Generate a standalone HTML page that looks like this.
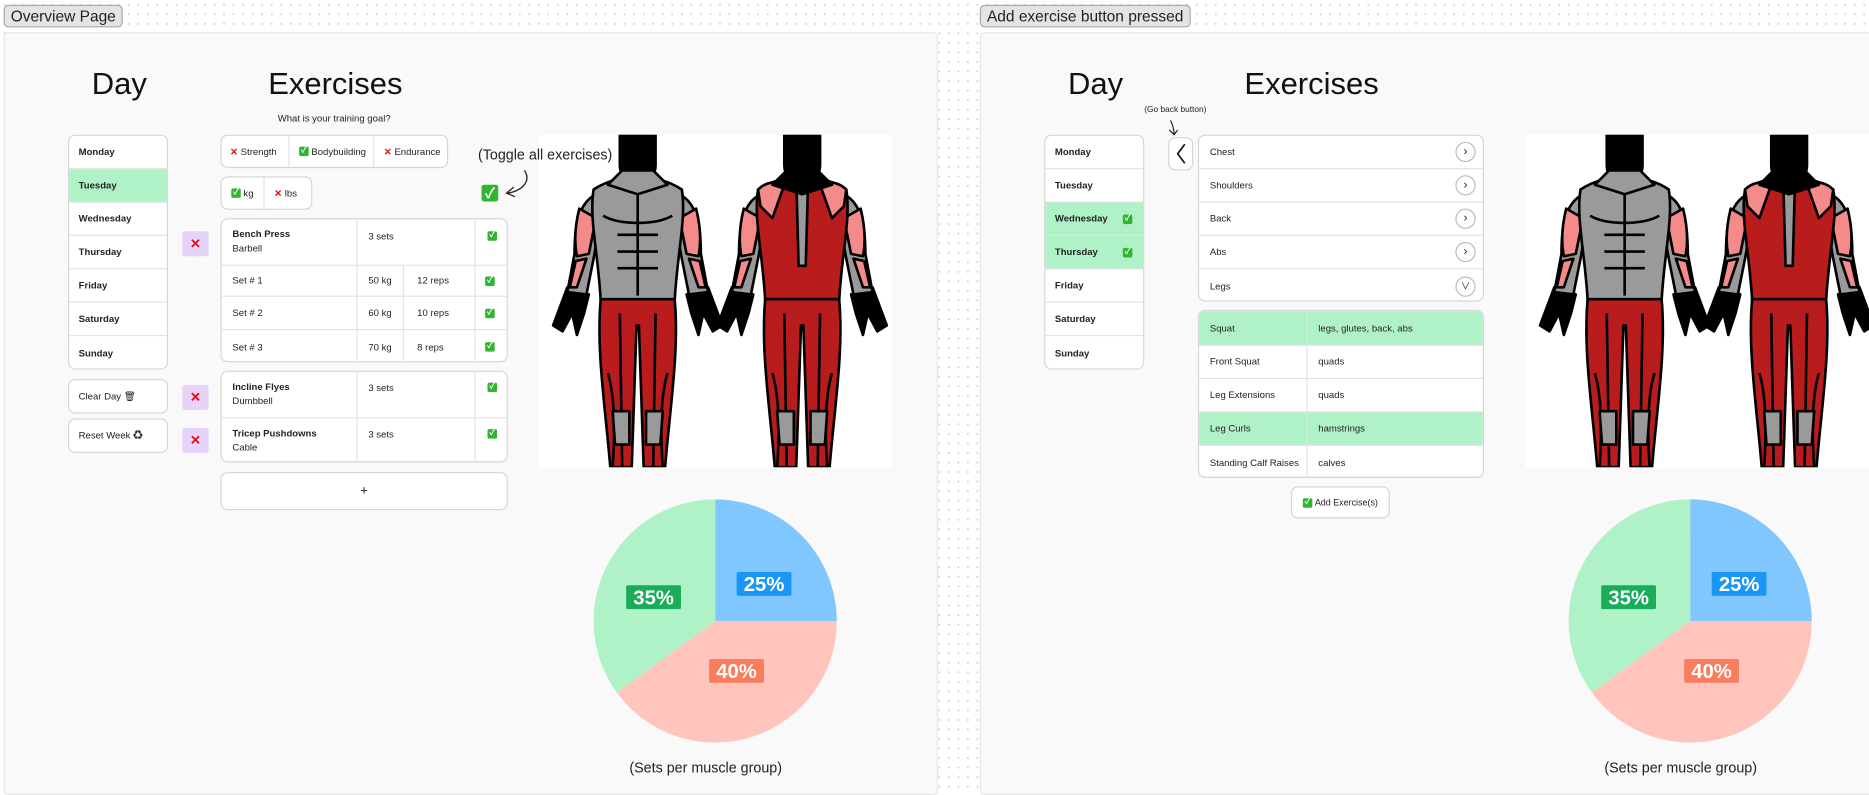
<!DOCTYPE html>
<html><head><meta charset="utf-8">
<style>
html,body{margin:0;padding:0;width:1869px;height:790px;overflow:hidden;background:#fff}
#stage{position:absolute;left:0;top:0;width:1568px;height:663px;transform:scale(1.19196);transform-origin:0 0;
 background-color:#fff;background-image:radial-gradient(#cfcfcf 0.7px,transparent 0.9px);background-size:8px 8px;
 font-family:"Liberation Sans","Noto Sans CJK JP",sans-serif;color:#222}
.abs{position:absolute;box-sizing:border-box}
.tag{background:#e4e4e4;border:1px solid #a8a8a8;border-radius:4px;font-size:13px;padding:1px 5px;line-height:15px}
.panel{background:#f9f9f9;border:1px solid #e6e6e6;border-radius:4px}
.h1{font-size:26px;color:#111}
.card{background:#fff;border:1px solid #d6d6d6;border-radius:6px;overflow:hidden}
.row{position:absolute;left:0;right:0;border-bottom:1px solid #e2e2e2;font-size:8px;display:flex;align-items:center;box-sizing:border-box}
.row:last-child{border-bottom:none}
.b{font-weight:bold}
.cell{position:absolute;top:0;bottom:0;display:flex;align-items:center;font-size:8px;box-sizing:border-box}
.vl{border-left:1px solid #e2e2e2}
.chk{display:inline-block;width:8px;height:8px;background:#2fb52f;border-radius:1.5px;color:#fff;font-size:7px;line-height:8px;text-align:center;font-weight:bold}
.x{color:#e01010;font-weight:bold}
.xbox{background:#e7d2fa;border-radius:2px;color:#e01010;font-weight:bold;font-size:11px;display:flex;align-items:center;justify-content:center}
.green{background:#b0f2c8}
.chev{position:absolute;right:6px;width:15px;height:15px;border:1px solid #bbb;border-radius:50%;background:#fff;font-size:10px;display:flex;align-items:center;justify-content:center}
</style></head><body>
<div id="stage">

<div class="abs tag" style="left:3px;top:4px">Overview Page</div>
<div class="abs tag" style="left:822px;top:4px">Add exercise button pressed</div>

<!-- LEFT PANEL -->
<div class="abs panel" style="left:3px;top:27px;width:784px;height:640px"></div>
<div class="abs h1" style="left:77px;top:55px">Day</div>
<div class="abs h1" style="left:225px;top:55px">Exercises</div>
<div class="abs" style="left:233px;top:95px;font-size:8px">What is your training goal?</div>

<div class="abs card" style="left:57px;top:113px;width:84px;height:197px">
 <div class="row b" style="top:0;height:28px;padding-left:8px">Monday</div>
 <div class="row b green" style="top:28px;height:28px;padding-left:8px">Tuesday</div>
 <div class="row b" style="top:56px;height:28px;padding-left:8px">Wednesday</div>
 <div class="row b" style="top:84px;height:28px;padding-left:8px">Thursday</div>
 <div class="row b" style="top:112px;height:28px;padding-left:8px">Friday</div>
 <div class="row b" style="top:140px;height:28px;padding-left:8px">Saturday</div>
 <div class="row b" style="top:168px;height:29px;padding-left:8px">Sunday</div>
</div>
<div class="abs card" style="left:57px;top:318px;width:84px;height:29px;font-size:8px;display:flex;align-items:center;padding-left:8px">Clear Day 🗑</div>
<div class="abs card" style="left:57px;top:351px;width:84px;height:29px;font-size:8px;display:flex;align-items:center;padding-left:8px">Reset Week ♻</div>
<div class="abs xbox" style="left:153px;top:194px;width:22px;height:21px">✕</div>
<div class="abs xbox" style="left:153px;top:323px;width:22px;height:21px">✕</div>
<div class="abs xbox" style="left:153px;top:359px;width:22px;height:21px">✕</div>

<div class="abs card" style="left:185px;top:113px;width:191px;height:28px">
 <div class="cell" style="left:7px"><span class="x">✕</span>&nbsp;Strength</div>
 <div class="cell vl" style="left:56px;padding-left:8px"><span class="chk">✓</span>&nbsp;Bodybuilding</div>
 <div class="cell vl" style="left:127px;padding-left:8px"><span class="x">✕</span>&nbsp;Endurance</div>
</div>
<div class="abs card" style="left:185px;top:148px;width:77px;height:28px">
 <div class="cell" style="left:8px"><span class="chk">✓</span>&nbsp;kg</div>
 <div class="cell vl" style="left:35px;padding-left:8px"><span class="x">✕</span>&nbsp;lbs</div>
</div>
<div class="abs" style="left:404px;top:155px;width:14px;height:14px;background:#2fb52f;border-radius:2px;color:#fff;font-size:12px;line-height:14px;text-align:center;font-weight:bold">✓</div>
<svg class="abs" style="left:418px;top:140px" width="30" height="30"><path d="M22 3 C28 12 20 20 8 22" fill="none" stroke="#222" stroke-width="1.1"/><path d="M13 17 L7 22 L14 25" fill="none" stroke="#222" stroke-width="1.1"/></svg>

<div class="abs card" style="left:185px;top:183px;width:241px;height:121px">
 <div class="row" style="top:0;height:39px">
  <div class="cell" style="left:9px;flex-direction:column;align-items:flex-start;justify-content:center;line-height:12px"><span class="b">Bench Press</span><span>Barbell</span></div>
  <div class="cell vl" style="left:113px;padding-left:9px;align-items:flex-start;padding-top:10px">3 sets</div>
  <div class="cell vl" style="left:212px;padding-left:10px;align-items:flex-start;padding-top:10px"><span class="chk">✓</span></div>
 </div>
 <div class="row" style="top:39px;height:26px">
  <div class="cell" style="left:9px">Set # 1</div><div class="cell vl" style="left:113px;padding-left:9px">50 kg</div><div class="cell vl" style="left:152px;padding-left:11px">12 reps</div><div class="cell vl" style="left:212px;padding-left:8px"><span class="chk">✓</span></div>
 </div>
 <div class="row" style="top:65px;height:28px">
  <div class="cell" style="left:9px">Set # 2</div><div class="cell vl" style="left:113px;padding-left:9px">60 kg</div><div class="cell vl" style="left:152px;padding-left:11px">10 reps</div><div class="cell vl" style="left:212px;padding-left:8px"><span class="chk">✓</span></div>
 </div>
 <div class="row" style="top:93px;height:28px">
  <div class="cell" style="left:9px">Set # 3</div><div class="cell vl" style="left:113px;padding-left:9px">70 kg</div><div class="cell vl" style="left:152px;padding-left:11px">8 reps</div><div class="cell vl" style="left:212px;padding-left:8px"><span class="chk">✓</span></div>
 </div>
</div>
<div class="abs card" style="left:185px;top:311px;width:241px;height:77px">
 <div class="row" style="top:0;height:39px">
  <div class="cell" style="left:9px;flex-direction:column;align-items:flex-start;justify-content:center;line-height:12px"><span class="b">Incline Flyes</span><span>Dumbbell</span></div>
  <div class="cell vl" style="left:113px;padding-left:9px;align-items:flex-start;padding-top:9px">3 sets</div>
  <div class="cell vl" style="left:212px;padding-left:10px;align-items:flex-start;padding-top:9px"><span class="chk">✓</span></div>
 </div>
 <div class="row" style="top:39px;height:38px">
  <div class="cell" style="left:9px;flex-direction:column;align-items:flex-start;justify-content:center;line-height:12px"><span class="b">Tricep Pushdowns</span><span>Cable</span></div>
  <div class="cell vl" style="left:113px;padding-left:9px;align-items:flex-start;padding-top:9px">3 sets</div>
  <div class="cell vl" style="left:212px;padding-left:10px;align-items:flex-start;padding-top:9px"><span class="chk">✓</span></div>
 </div>
</div>
<div class="abs card" style="left:185px;top:396px;width:241px;height:32px;display:flex;align-items:center;justify-content:center;font-size:11px">+</div>

<svg class="abs" id="body1" style="left:452px;top:113px" width="296" height="279"></svg>
<div class="abs" style="left:401px;top:123px;font-size:12px;white-space:nowrap">(Toggle all exercises)</div>
<svg class="abs" id="pie1" style="left:490px;top:410px" width="220" height="220"></svg>
<div class="abs" style="left:528px;top:637px;font-size:12px">(Sets per muscle group)</div>

<!-- RIGHT PANEL -->
<div class="abs panel" style="left:822px;top:27px;width:760px;height:640px"></div>
<div class="abs h1" style="left:896px;top:55px">Day</div>
<div class="abs h1" style="left:1044px;top:55px">Exercises</div>
<div class="abs" style="left:960px;top:89px;font-size:7px">(Go back button)</div>
<svg class="abs" style="left:979px;top:100px" width="14" height="15"><path d="M3 1 C5 5 6 9 6 13" fill="none" stroke="#222" stroke-width="1"/><path d="M2 9 L6 13 L9 9" fill="none" stroke="#222" stroke-width="1"/></svg>

<div class="abs card" style="left:876px;top:113px;width:84px;height:197px">
 <div class="row b" style="top:0;height:28px;padding-left:8px">Monday</div>
 <div class="row b" style="top:28px;height:28px;padding-left:8px">Tuesday</div>
 <div class="row b green" style="top:56px;height:28px;padding-left:8px">Wednesday<span class="chk" style="position:absolute;left:65px">✓</span></div>
 <div class="row b green" style="top:84px;height:28px;padding-left:8px">Thursday<span class="chk" style="position:absolute;left:65px">✓</span></div>
 <div class="row b" style="top:112px;height:28px;padding-left:8px">Friday</div>
 <div class="row b" style="top:140px;height:28px;padding-left:8px">Saturday</div>
 <div class="row b" style="top:168px;height:29px;padding-left:8px">Sunday</div>
</div>
<div class="abs card" style="left:980px;top:115px;width:21px;height:28px;display:flex;align-items:center;justify-content:center;font-size:18px"><svg width="10" height="18"><path d="M8 1 L2 9 L8 17" fill="none" stroke="#111" stroke-width="1.4"/></svg></div>

<div class="abs card" style="left:1005px;top:113px;width:240px;height:140px">
 <div class="row" style="top:0;height:28px;padding-left:9px">Chest<span class="chev">›</span></div>
 <div class="row" style="top:28px;height:28px;padding-left:9px">Shoulders<span class="chev">›</span></div>
 <div class="row" style="top:56px;height:28px;padding-left:9px">Back<span class="chev">›</span></div>
 <div class="row" style="top:84px;height:28px;padding-left:9px">Abs<span class="chev">›</span></div>
 <div class="row" style="top:112px;height:28px;padding-left:9px">Legs<span class="chev" style="font-size:8px">∨</span></div>
</div>
<div class="abs card" style="left:1005px;top:260px;width:240px;height:141px">
 <div class="row green" style="top:0;height:29px"><div class="cell" style="left:9px">Squat</div><div class="cell vl" style="left:90px;padding-left:9px">legs, glutes, back, abs</div></div>
 <div class="row" style="top:29px;height:28px"><div class="cell" style="left:9px">Front Squat</div><div class="cell vl" style="left:90px;padding-left:9px">quads</div></div>
 <div class="row" style="top:57px;height:28px"><div class="cell" style="left:9px">Leg Extensions</div><div class="cell vl" style="left:90px;padding-left:9px">quads</div></div>
 <div class="row green" style="top:85px;height:28px"><div class="cell" style="left:9px">Leg Curls</div><div class="cell vl" style="left:90px;padding-left:9px">hamstrings</div></div>
 <div class="row" style="top:113px;height:28px"><div class="cell" style="left:9px">Standing Calf Raises</div><div class="cell vl" style="left:90px;padding-left:9px">calves</div></div>
</div>
<div class="abs card" style="left:1083px;top:408px;width:83px;height:27px;font-size:7.5px;display:flex;align-items:center;justify-content:center"><span class="chk">✓</span>&nbsp;Add Exercise(s)</div>

<svg class="abs" id="body2" style="left:1280px;top:113px" width="296" height="279"></svg>
<svg class="abs" id="pie2" style="left:1308px;top:410px" width="220" height="220"></svg>
<div class="abs" style="left:1346px;top:637px;font-size:12px">(Sets per muscle group)</div>
</div>

<script>
const pieCategories = ["Arms", "Legs", "Chest"];
const pieValues = [25, 40, 35];
const pieFill = ["#80c6ff", "#ffc5bd", "#b0f2c8"];
const pieLabelBg = ["#1a96f5", "#f77d5d", "#19ad5a"];

const NS = "http://www.w3.org/2000/svg";
function drawPie(svg) {
  const cx = 110, cy = 111, r = 102;
  const total = pieValues.reduce((a, b) => a + b, 0);
  let start = 0;
  pieValues.forEach((v, i) => {
    const a0 = start / total * 2 * Math.PI, a1 = (start + v) / total * 2 * Math.PI;
    const x0 = cx + r * Math.sin(a0), y0 = cy - r * Math.cos(a0);
    const x1 = cx + r * Math.sin(a1), y1 = cy - r * Math.cos(a1);
    const p = document.createElementNS(NS, "path");
    p.setAttribute("d", `M${cx} ${cy} L${x0} ${y0} A${r} ${r} 0 ${a1 - a0 > Math.PI ? 1 : 0} 1 ${x1} ${y1} Z`);
    p.setAttribute("fill", pieFill[i]);
    
    
    svg.appendChild(p);
    const am = (a0 + a1) / 2;
    const lx = cx + 58 * Math.sin(am), ly = cy - 44 * Math.cos(am);
    const g = document.createElementNS(NS, "g");
    
    
    const rect = document.createElementNS(NS, "rect");
    rect.setAttribute("x", lx - 23); rect.setAttribute("y", ly - 10);
    rect.setAttribute("width", 46); rect.setAttribute("height", 20);
    rect.setAttribute("rx", 1.5); rect.setAttribute("fill", pieLabelBg[i]);
    g.appendChild(rect);
    const t = document.createElementNS(NS, "text");
    t.setAttribute("x", lx); t.setAttribute("y", ly + 6);
    t.setAttribute("text-anchor", "middle"); t.setAttribute("fill", "#fff");
    t.setAttribute("font-size", "17"); t.setAttribute("font-weight", "bold");
    t.setAttribute("font-family", "Liberation Sans, sans-serif");
    t.textContent = Math.round(v / total * 100) + "%";
    g.appendChild(t);
    svg.appendChild(g);
    start += v;
  });
}
drawPie(document.getElementById("pie1"));
drawPie(document.getElementById("pie2"));

function figure(ox, back) {
  const R = "#b81c1c", P = "#f58a8a", G = "#9a9a9a";
  let s = `<g transform="translate(${ox},0)" stroke="#000" stroke-width="2.2" stroke-linejoin="round">`;
  s += `<path d="M6 128 L-6 160 L2 165 L10 150 L14 168 L20 150 L24 134 Z" fill="#000"/>`;
  s += `<path d="M124 128 L136 160 L128 165 L120 150 L116 168 L110 150 L106 134 Z" fill="#000"/>`;
  s += `<path d="M30 50 C14 58 12 80 12 100 L6 132 L22 134 L28 104 L34 70 Z" fill="${G}"/>`;
  s += `<path d="M100 50 C116 58 118 80 118 100 L124 132 L108 134 L102 104 L96 70 Z" fill="${G}"/>`;
  s += `<path d="M16 62 C12 78 12 92 14 102 L24 100 L30 70 Z" fill="${P}"/>`;
  s += `<path d="M114 62 C118 78 118 92 116 102 L106 100 L100 70 Z" fill="${P}"/>`;
  s += `<path d="M13 106 L8 128 L14 128 L22 104 Z" fill="${P}"/>`;
  s += `<path d="M117 106 L122 128 L116 128 L108 104 Z" fill="${P}"/>`;
  s += `<path d="M28 46 C40 38 52 36 65 36 C78 36 90 38 102 46 C106 70 98 100 96 140 L34 140 C32 100 24 70 28 46 Z" fill="${back ? R : G}"/>`;
  if (back) {
    s += `<path d="M28 46 C34 40 44 38 50 42 L40 70 L30 60 Z" fill="${P}"/><path d="M102 46 C96 40 86 38 80 42 L90 70 L100 60 Z" fill="${P}"/>`;
    s += `<path d="M60 36 L70 36 L68 110 L62 110 Z" fill="${G}"/>`;
  } else {
    s += `<path d="M48 84 L82 84 M48 98 L82 98 M48 112 L82 112 M65 50 L65 135 M36 68 C50 76 80 76 94 68" fill="none"/>`;
  }
  s += `<path d="M34 138 L96 138 C100 180 92 230 88 279 L70 279 L66 160 L64 160 L60 279 L42 279 C38 230 30 180 34 138 Z" fill="${R}"/>`;
  s += `<path d="M40 200 C46 220 46 250 44 279 M90 200 C84 220 84 250 86 279 M50 150 L52 279 M80 150 L78 279" fill="none"/>`;
  s += `<path d="M44 232 L58 232 L58 260 L46 260 Z M72 232 L86 232 L84 260 L72 260 Z" fill="${G}"/>`;
  s += `<path d="M50 0 L80 0 L80 26 C80 34 74 40 65 44 C56 40 50 34 50 26 Z" fill="#000"/>`;
  s += `<path d="M52 30 L40 42 L65 50 L90 42 L78 30 Z" fill="${back ? "#000" : G}"/>`;
  s += `</g>`;
  return s;
}
function drawBody(svg) {
  svg.innerHTML = `<rect width="296" height="279" fill="#fff" stroke="none"/>` + figure(18, false) + figure(156, true);
}
drawBody(document.getElementById("body1"));
drawBody(document.getElementById("body2"));
</script>
</body></html>
